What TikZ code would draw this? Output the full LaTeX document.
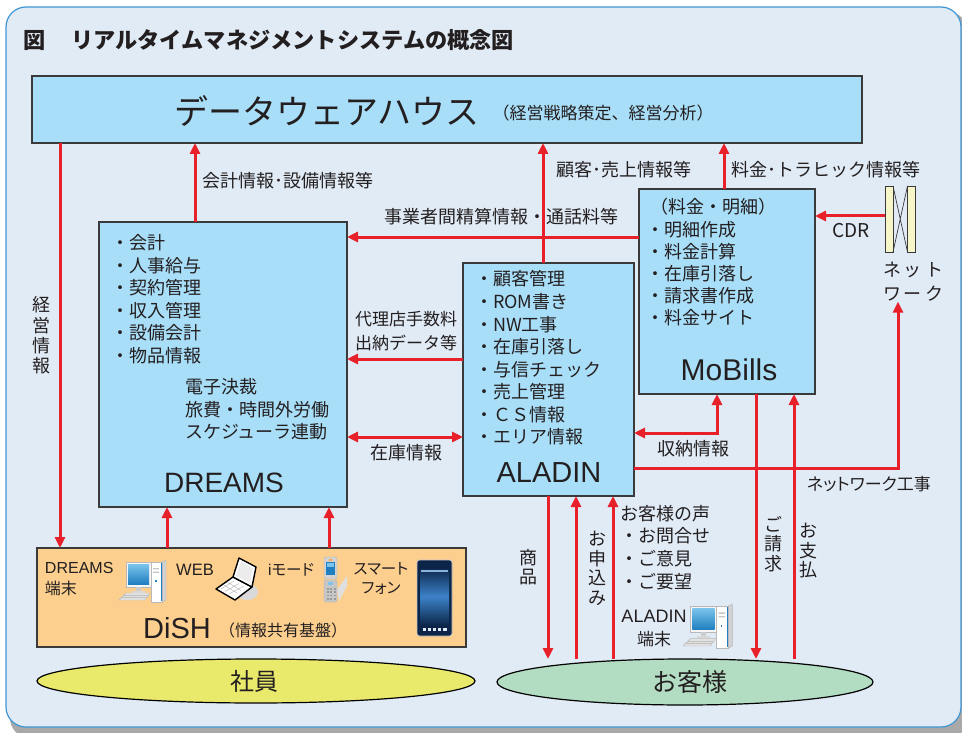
\documentclass[tikz,border=0pt]{standalone}
\usepackage{fontspec}
\setmainfont{Noto Sans CJK JP}
\newfontfamily\latin{Liberation Sans}
\newfontfamily\jpprop[RawFeature=+palt]{Noto Sans CJK JP}
\usetikzlibrary{arrows.meta,shapes.geometric}

\definecolor{panelbg}{HTML}{E1EBF6}
\definecolor{panelline}{HTML}{3E96D4}
\definecolor{shadowgray}{HTML}{A9A9A9}
\definecolor{boxfill}{HTML}{A9DEF8}
\definecolor{boxline}{HTML}{3A3A3A}
\definecolor{flowred}{HTML}{E8202A}
\definecolor{dishfill}{HTML}{FCCF8F}
\definecolor{staffyellow}{HTML}{E9E96C}
\definecolor{custgreen}{HTML}{B3DDC2}
\definecolor{ink}{HTML}{231F20}
\definecolor{netfill}{HTML}{F6F6C8}
\definecolor{scrtop}{HTML}{7CC4EC}
\definecolor{scrbot}{HTML}{1F7FC0}
\definecolor{phonenavy}{HTML}{0B2447}
\definecolor{phoneblue}{HTML}{3C82C8}

\tikzset{
  flow/.style={draw=flowred, line width=3pt, -{Triangle[length=11pt,width=10pt]}},
  flowboth/.style={draw=flowred, line width=3pt,
    {Triangle[length=11pt,width=10pt]}-{Triangle[length=11pt,width=10pt]}},
  sysbox/.style={draw=boxline, fill=boxfill, line width=1.3pt, anchor=north west,
    inner sep=0pt, outer sep=0pt},
  txt/.style={inner sep=0pt, outer sep=0pt, text=ink, font=\fontsize{18}{22.5}\selectfont},
  vtxt/.style={txt, align=center, font=\fontsize{18}{19.5}\selectfont},
  bigname/.style={inner sep=0pt, text=ink, font=\latin\fontsize{29}{32}\selectfont},
  netbar/.style={draw=boxline, fill=netfill, line width=0.9pt, minimum width=8pt,
    minimum height=66pt, inner sep=0pt, outer sep=0pt},
  pool/.style={ellipse, draw=black, line width=1.2pt, inner sep=0pt, outer sep=0pt},
}

% desktop computer: monitor, tower and keyboard
\newcommand{\desktoppc}[2]{%
  \begin{scope}[shift={(#1)}, scale=#2]
    \fill[gray!22, draw=gray!55, line width=0.4pt] (0,40) -- (7,33) -- (31,33) -- (26,40) -- cycle;
    \draw[gray!50, line width=0.3pt] (3,37.5) -- (28,37.5) (5,35.3) -- (29.5,35.3);
    \fill[gray!8, draw=gray!55, line width=0.5pt] (7,2) rectangle (32,27);
    \shade[top color=scrtop, bottom color=scrbot] (9,4) rectangle (30,24);
    \fill[gray!40] (17,27) rectangle (22,30.5);
    \fill[gray!30] (13,30.5) rectangle (26,32.5);
    \fill[gray!35, draw=gray!55, line width=0.4pt] (43,2) -- (47,0) -- (47,40) -- (43,42) -- cycle;
    \fill[white, draw=gray!55, line width=0.5pt] (32,2) rectangle (43,42);
    \fill[scrbot] (41.5,3) rectangle (43,41);
    \fill[gray!45] (34,8) rectangle (40,9.3) (34,11.5) rectangle (40,12.8);
    \fill[scrbot] (36,20) rectangle (37.5,21.5);
  \end{scope}}

\begin{document}
\begin{tikzpicture}[x=1pt, y=-1pt]
\useasboundingbox (0,0) rectangle (962,733);

% panel with drop shadow
\fill[shadowgray, rounded corners=20pt] (10,12) rectangle (968,738);
\draw[panelline, fill=panelbg, line width=1.2pt, rounded corners=20pt] (6,7) rectangle (961,727);

\node[anchor=west, inner sep=0pt, text=ink, font=\bfseries\fontsize{22.2}{24}\selectfont]
  (title) at (23,40) {図\hspace{26pt}リアルタイムマネジメントシステムの概念図};

% system boxes
\node[sysbox, minimum width=830pt, minimum height=67pt] (dw) at (32,76) {};
\node[sysbox, minimum width=248pt, minimum height=285pt] (dreams) at (99,222) {};
\node[sysbox, minimum width=171pt, minimum height=233pt] (aladin) at (463,263) {};
\node[sysbox, minimum width=176pt, minimum height=205pt] (mobills) at (639,189) {};
\node[sysbox, fill=dishfill, minimum width=429pt, minimum height=99pt] (dish) at (37,548) {};
\node[pool, fill=staffyellow, minimum width=438pt, minimum height=44pt] (staff) at (256,681) {};
\node[pool, fill=custgreen, minimum width=376pt, minimum height=46pt] (cust) at (685,682) {};

% network node
\node[netbar] (netL) at (889,219) {};
\node[netbar] (netR) at (911.5,219) {};
\draw[boxline, line width=0.7pt] (netL.north east) -- (netR.south west)
  (netL.south east) -- (netR.north west);
\node[txt, align=left, anchor=west, font=\fontsize{18}{24}\selectfont] (netlbl) at (883,282)
  {ネ\,ッ\,ト\\ワ\,ー\,ク};

% texts: data warehouse
\node[inner sep=0pt, text=ink, font=\fontsize{34}{36}\selectfont] (dwname) at (327,111) {データウェアハウス};
\node[txt, font=\fontsize{17}{20}\selectfont] (dwnote) at (603,113) {（経営戦略策定、経営分析）};

% DREAMS contents
\node[txt, align=left, anchor=west] (dlist) at (111,299.25)
  {・会計\\・人事給与\\・契約管理\\・収入管理\\・設備会計\\・物品情報};
\node[txt, align=left, anchor=west] (dlist2) at (185,409.7)
  {電子決裁\\旅費・時間外労働\\スケジューラ連動};
\node[bigname, font=\latin\fontsize{28}{32}\selectfont] (dname) at (224,483) {DREAMS};

% ALADIN contents
\node[txt, align=left, anchor=west, font=\fontsize{18}{22.57}\selectfont] (alist) at (475,358)
  {・顧客管理\\・ROM書き\\・NW工事\\・在庫引落し\\・与信チェック\\・売上管理\\・ＣＳ情報\\・エリア情報};
\node[bigname] (aname) at (549,473) {ALADIN};

% MoBills contents
\node[txt, align=left, anchor=west, font=\fontsize{18}{22.2}\selectfont] (mlist) at (646,262.5)
  {\hspace{4pt}（料金・明細）\\・明細作成\\・料金計算\\・在庫引落し\\・請求書作成\\・料金サイト};
\node[bigname, font=\latin\fontsize{30}{32}\selectfont] (mname) at (729,370) {MoBills};

% DiSH contents
\node[txt, align=left, anchor=west, font=\fontsize{16}{21}\selectfont] (dterm) at (45,579.5)
  {{\latin DREAMS}\\端末};
\desktoppc{119,560}{1}
\node[txt, font=\latin\fontsize{16.5}{20}\selectfont] (web) at (195,570) {WEB};
% laptop
\fill[gray!30] (247,592) ellipse [x radius=11pt, y radius=8pt];
\filldraw[fill=white, draw=black, line width=1.4pt, line join=round]
  (216,589) -- (235,600) -- (252,587) -- (233,577) -- cycle;
\draw[gray!60, line width=0.4pt] (221,589) -- (234,581) (225,591.5) -- (239,583.5) (229,594) -- (244,586)
  (224,585) -- (237,593) (228,582.5) -- (241,590.5);
\filldraw[fill=white, draw=black, line width=1.4pt, line join=round]
  (233,577) -- (239,558) -- (256,567) -- (252,587) -- cycle;
\fill[gray!15] (236,576) -- (241,561) -- (253,568.5) -- (250,583) -- cycle;
\node[txt, font=\jpprop\fontsize{15.5}{20}\selectfont] (imode) at (291,570) {{\latin i}モード};
% flip phone
\fill[gray!25] (337,590) -- (347,576) -- (347,586) -- (339,601) -- cycle;
\filldraw[fill=gray!35, draw=gray!60, line width=0.4pt, rounded corners=2pt] (324,557) rectangle (337,579);
\fill[scrbot] (326,562) rectangle (335,575);
\fill[scrtop] (327,563) rectangle (334,567);
\fill[orange!70] (329,558.5) rectangle (332,560.5);
\filldraw[fill=gray!45, draw=gray!60, line width=0.4pt, rounded corners=2pt] (324,580) rectangle (337,602);
\foreach \r in {0,...,3} \foreach \c in {0,1,2}
  \fill[gray!80] ({326.5+\c*3.5},{588+\r*3.3}) rectangle ++(2.2,1.8);
\fill[scrtop] (328,582) rectangle (333,585);
\node[txt, align=center, font=\jpprop\fontsize{15.5}{19}\selectfont] (smart) at (381,578.5) {スマート\\フォン};
% smartphone
\filldraw[fill=phonenavy, draw=gray!45, line width=0.8pt, rounded corners=2.5pt] (417,560) rectangle (452,636);
\shade[top color=phonenavy, bottom color=phonenavy, middle color=phoneblue] (420,567) rectangle (449,626);
\fill[phoneblue!60!white] (421,570) rectangle (448,572);
\foreach \i in {0,...,4} \fill[white!85!phoneblue] ({422.5+\i*5.2},627.5) rectangle ++(3.2,3.5);
\node[bigname] (dishname) at (177,628) {DiSH};
\node[txt, anchor=west, font=\fontsize{16}{20}\selectfont] (dishnote) at (219,630) {（情報共有基盤）};

% user groups
\node[txt, font=\fontsize{24}{26}\selectfont] (staffname) at (254,681) {社員};
\node[txt, font=\fontsize{25}{27}\selectfont] (custname) at (690,682) {お客様};

% ALADIN terminal at the customer side
\node[txt, align=center, font=\fontsize{17}{23}\selectfont] (aterm) at (654,628.5) {{\latin\fontsize{18}{23}\selectfont ALADIN}\\端末};
\desktoppc{683,604}{1.05}

% information flows to the data warehouse
\draw[flow] (dw.south -| 60,0) -- (dish.north -| 60,0);
\draw[flow] (dreams.north -| 195,0) -- (dw.south -| 195,0);
\draw[flow] (aladin.north -| 543,0) -- (dw.south -| 543,0);
\draw[flow] (mobills.north -| 724,0) -- (dw.south -| 724,0);

% flows between systems
\draw[flow] (mobills.west |- 0,237) -- (dreams.east |- 0,237);
\draw[flow] (aladin.west |- 0,359) -- (dreams.east |- 0,359);
\draw[flowboth] (dreams.east |- 0,437) -- (aladin.west |- 0,437);
\draw[flowboth] (aladin.east |- 0,433) -| (mobills.south -| 717,0);
\draw[flow] (netL.west |- 0,216) -- (mobills.east |- 0,216);
\draw[flow] (aladin.east |- 0,468) -| (netlbl.south -| 898,0);

% flows with users
\draw[flow] (dish.north -| 167,0) -- (dreams.south -| 167,0);
\draw[flow] (dish.north -| 329,0) -- (dreams.south -| 329,0);
\draw[flow] (aladin.south -| 548,0) -- (cust.north -| 548,0);
\draw[flow] (cust.north -| 576,0) -- (aladin.south -| 576,0);
\draw[flow] (cust.north -| 613,0) -- (aladin.south -| 613,0);
\draw[flow] (mobills.south -| 756,0) -- (cust.north -| 756,0);
\draw[flow] (cust.north -| 794,0) -- (mobills.south -| 794,0);

% flow labels
\node[vtxt, font=\fontsize{18}{20.3}\selectfont] (lblmgmt) at (41,335.5) {経\\営\\情\\報};
\node[txt, anchor=west] (lblacct) at (202,181) {会計情報･設備情報等};
\node[txt, anchor=west] (lblcust) at (556,170) {顧客･売上情報等};
\node[txt, anchor=west] (lbltraffic) at (731,170) {料金･トラヒック情報等};
\node[txt, anchor=west] (lblsettle) at (384,217) {事業者間精算情報・通話料等};
\node[txt, align=left, anchor=west, font=\fontsize{17}{24}\selectfont] (lblagent) at (355,331)
  {代理店手数料\\出納データ等};
\node[txt] (lblstock) at (406,453) {在庫情報};
\node[txt] (lblrecv) at (693,449) {収納情報};
\node[txt, font=\fontsize{19}{22}\selectfont] (lblcdr) at (851,231) {CDR};
\node[txt, anchor=west, font=\jpprop\fontsize{17}{20}\selectfont] (lblnetwork) at (807,484) {ネットワーク工事};
\node[vtxt] (lblgoods) at (528,567) {商\\品};
\node[vtxt] (lblorder) at (597,568.5) {お\\申\\込\\み};
\node[vtxt] (lblbill) at (773,544) {ご\\請\\求};
\node[vtxt] (lblpay) at (808,551) {お\\支\\払};
\node[txt, align=left, anchor=west, font=\fontsize{18}{22.8}\selectfont] (lblvoice) at (620,547.5)
  {お客様の声\\・お問合せ\\・ご意見\\・ご要望};
\end{tikzpicture}
\end{document}
